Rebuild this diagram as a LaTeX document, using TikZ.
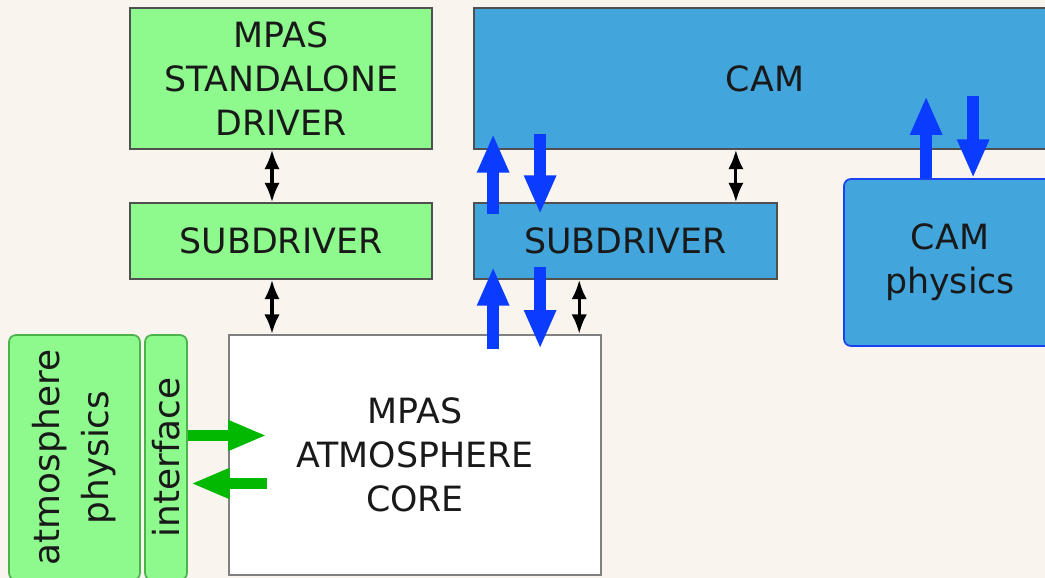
\documentclass[tikz,border=0pt]{standalone}
\usepackage{fontspec}
\setmainfont{DejaVu Sans}
\usepackage{tikz}
\usetikzlibrary{arrows.meta,positioning,calc}
\definecolor{bgcream}{RGB}{249,244,237}
\definecolor{mpasgreen}{RGB}{142,250,142}
\definecolor{camblue}{RGB}{66,166,220}
\definecolor{flowblue}{RGB}{10,60,255}
\definecolor{flowgreen}{RGB}{0,185,0}
\definecolor{edgegray}{RGB}{80,80,80}

\begin{document}
\begin{tikzpicture}[
  box/.style={rectangle, draw=edgegray, line width=0.5pt, inner sep=0pt, align=center, text=black!90, font=\fontsize{9.9}{12.5}\selectfont},
  gbox/.style={box, fill=mpasgreen},
  bbox/.style={box, fill=camblue},
  sidebox/.style={box, fill=mpasgreen, draw=green!40!gray, rounded corners=2pt, font=\fontsize{10.2}{14}\selectfont},
  link/.style={{Latex[length=5.5pt,width=4.4pt]}-{Latex[length=5.5pt,width=4.4pt]}, line width=0.9pt, black},
  flow/.style={-{Triangle[length=11pt,width=8.4pt]}, line width=3.4pt, flowblue},
  gflow/.style={-{Triangle[length=11pt,width=8pt]}, line width=3.4pt, flowgreen}
]
  \useasboundingbox (0,0) rectangle (10.45,-5.78);
  \clip (0,0) rectangle (10.45,-5.78);
  \fill[bgcream] (0,0) rectangle (10.45,-5.78);

  % MPAS side
  \node[gbox, minimum width=3.02cm, minimum height=1.41cm] (sadriver) at (2.81,-0.785) {MPAS\\STANDALONE\\DRIVER};
  \node[gbox, minimum width=3.02cm, minimum height=0.76cm] (subg) at (2.81,-2.41) {SUBDRIVER};
  \node[box, fill=white, draw=gray, line width=0.7pt, minimum width=3.72cm, minimum height=2.40cm] (core) at (4.15,-4.55) {MPAS\\ATMOSPHERE\\CORE};
  \node[sidebox, rotate=90, minimum width=2.45cm, minimum height=1.31cm] (atmphys) at (0.745,-4.575) {atmosphere\\physics};
  \node[sidebox, rotate=90, minimum width=2.45cm, minimum height=0.42cm] (iface) at (1.66,-4.575) {interface};

  % CAM side
  \node[bbox, minimum width=5.82cm, minimum height=1.41cm] (cam) at (7.65,-0.785) {CAM};
  \node[bbox, minimum width=3.03cm, minimum height=0.76cm] (subb) at (6.255,-2.41) {SUBDRIVER};
  \node[bbox, draw=blue!60!camblue, rounded corners=2pt, minimum width=2.12cm, minimum height=1.67cm] (camphys) at (9.50,-2.625) {CAM\\physics};

  % black links
  \draw[link] ([xshift=-0.9mm]sadriver.south) -- ([xshift=-0.9mm]subg.north);
  \coordinate (lk) at ([xshift=-0.9mm]subg.south);
  \draw[link] (lk) -- (lk |- core.north);
  \coordinate (ca) at ([xshift=-4.2mm]subb.north east);
  \draw[link] (ca |- cam.south) -- (ca);
  \coordinate (cb) at ([xshift=-2.3mm]core.north east);
  \draw[link] (cb |- subb.south) -- (cb);

  % blue exchange
  \coordinate (bu) at ([xshift=2mm]subb.north west);
  \coordinate (bd) at ([xshift=6.7mm]subb.north west);
  \draw[flow] ([yshift=-1.2mm]bu) -- ([yshift=1.6mm]bu |- cam.south);
  \draw[flow] ([yshift=1.6mm]bd |- cam.south) -- ([yshift=-1.2mm]bd);
  \draw[flow] ([yshift=-1.5mm]bu |- core.north) -- ([yshift=1.3mm]bu |- subb.south);
  \draw[flow] ([yshift=1.3mm]bd |- subb.south) -- ([yshift=-1.5mm]bd |- core.north);
  \coordinate (pu) at ([xshift=8.3mm]camphys.north west);
  \coordinate (pd) at ([xshift=13mm]camphys.north west);
  \draw[flow] (pu) -- ([yshift=0.82cm]pu);
  \draw[flow] ([yshift=0.82cm]pd) -- (pd);

  % green exchange
  \coordinate (gr) at ([yshift=0.22cm]iface.south);
  \coordinate (gl) at ([yshift=-0.26cm]iface.south);
  \draw[gflow] (gr) -- ([xshift=0.39cm]gr -| core.west);
  \draw[gflow] ([xshift=0.39cm]gl -| core.west) -- ([xshift=0.03cm]gl);
\end{tikzpicture}
\end{document}
